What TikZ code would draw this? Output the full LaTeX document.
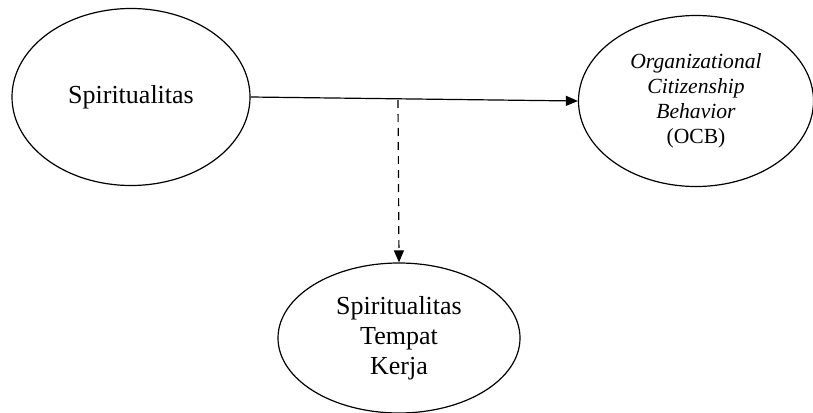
\documentclass[tikz,border=0pt]{standalone}
\usepackage{fontspec}
\setmainfont{Liberation Serif}
\usetikzlibrary{shapes.geometric, arrows.meta}

\tikzset{
  var/.style={ellipse, draw, line width=0.6pt, inner sep=0pt, align=center},
  conn/.style={line width=0.6pt, -{Triangle[length=6pt,width=5pt]}}
}

\begin{document}
\begin{tikzpicture}[x=0.5pt, y=-0.5pt]
        \useasboundingbox (0,0) rectangle (813,412);
        \node[var, minimum width=119pt, minimum height=88.5pt, font=\fontsize{13}{15.5}\selectfont] (spirit) at (131,97) {Spiritualitas};
        \node[var, minimum width=117.5pt, minimum height=85.5pt, font=\fontsize{10.8}{12.5}\selectfont] (ocb) at (696,101) {\textit{Organizational}\\\textit{Citizenship}\\\textit{Behavior}\\(OCB)};
        \node[var, minimum width=121pt, minimum height=75pt, font=\fontsize{13}{15}\selectfont] (swk) at (399,338) {Spiritualitas\\Tempat\\Kerja};
        \coordinate (mid) at (398,100);
        
        \draw[conn] (spirit.east) -- (ocb.west);
        \draw[conn, dash pattern=on 4pt off 3pt] (mid) -- (swk.north);
      \end{tikzpicture}
\end{document}
